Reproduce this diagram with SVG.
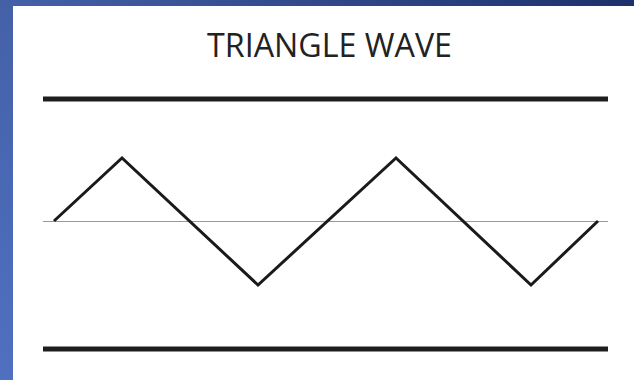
<svg xmlns="http://www.w3.org/2000/svg" width="634" height="380" viewBox="0 0 634 380">
  <defs>
    <linearGradient id="bg" x1="0" y1="1" x2="1" y2="0">
      <stop offset="0" stop-color="#5070c0"/>
      <stop offset="0.5" stop-color="#4461a8"/>
      <stop offset="1" stop-color="#1d306c"/>
    </linearGradient>
  </defs>
  <style>
    .bar { stroke: #1e1e1e; stroke-width: 5; }
    .axis { stroke: #999; stroke-width: 1.2; }
    .wave { fill: none; stroke: #1a1a1a; stroke-width: 3; stroke-linejoin: miter; }
    .title { font-family: "Open Sans", "Liberation Sans", sans-serif; font-size: 33px; fill: #222; }
  </style>
  <rect x="0" y="0" width="634" height="380" fill="url(#bg)"/>
  <rect x="13" y="6" width="621" height="374" fill="#fff"/>
  <text class="title" x="329.5" y="57" text-anchor="middle" textLength="245" lengthAdjust="spacingAndGlyphs">TRIANGLE WAVE</text>
  <g id="connectors">
    <line class="bar" x1="43" y1="99" x2="608" y2="99"/>
    <line class="bar" x1="43" y1="349" x2="608" y2="349"/>
    <line class="axis" x1="43" y1="221.5" x2="608" y2="221.5"/>
    <polyline class="wave" points="54,221 122,158 258,285 396,158 531,285 598,221"/>
  </g>
</svg>
